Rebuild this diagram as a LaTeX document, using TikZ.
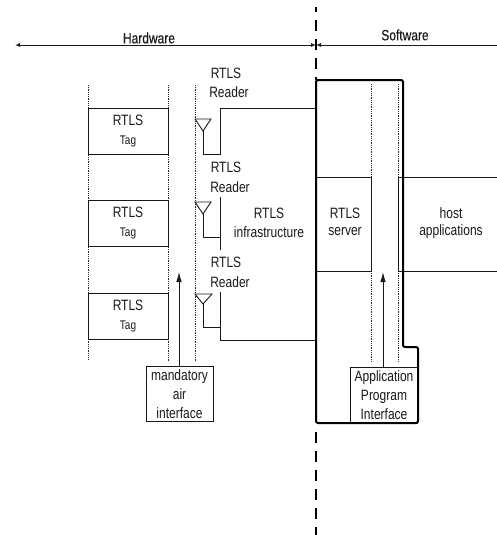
\documentclass[tikz,border=0pt]{standalone}
\usepackage{fontspec}
\setmainfont[FakeStretch=.8]{Liberation Sans}
\usetikzlibrary{arrows.meta}
\newcommand{\bigt}{\fontsize{15}{19}\selectfont}
\newcommand{\smt}{\fontsize{12.5}{19}\selectfont}
\tikzset{
  box/.style={draw=black!90,line width=.9pt,inner sep=0pt,align=center,text=black!90},
  tagbox/.style={box,minimum width=80pt,minimum height=46pt,font=\bigt},
  ifbox/.style={box,fill=white,minimum width=67pt,minimum height=55pt,font=\bigt},
  lbl/.style={inner sep=0pt,align=center,text=black!90,font=\bigt},
  guide/.style={densely dotted,line width=.8pt,black!85},
  wire/.style={line width=.9pt,black!90},
  thick outline/.style={line width=2pt,black,line join=round},
  flow/.style={line width=.9pt,black!90,-{Latex[length=10pt,width=5.5pt]}},
  ant/.style={wire,line join=miter},
  divider/.style={line width=1.5pt,black,dash pattern=on 11pt off 8pt},
}
\begin{document}
\begin{tikzpicture}[x=1pt,y=-1pt]
\useasboundingbox (0,0) rectangle (497,535);
% divider and axis
\coordinate (divT) at (316,20); \coordinate (divB) at (316,535);
\coordinate (divA) at (316,80); \coordinate (divC) at (316,432);
\coordinate (divS) at (316,7); \coordinate (divS2) at (316,12);
\coordinate (axL) at (15,45); \coordinate (axM) at (316,45); \coordinate (axR) at (497,45);
\draw[divider] (divS) -- (divS2);
\draw[divider] (divT) -- (divA);
\draw[divider] (divC) -- (divB);
\draw[wire,{Latex[length=5pt,width=4pt]}-{Latex[length=5pt,width=4pt]}] (axL) -- (axM);
\draw[wire,{Latex[length=5pt,width=4pt]}-] (axM) -- (axR);
\node[lbl] (hw) at (149,38) {\addfontfeature{FakeBold=.4}Hardware};
\node[lbl] (sw) at (405,35) {\addfontfeature{FakeBold=.4}Software};
% tag guides
\coordinate (g1a) at (88,85);  \coordinate (g1b) at (88,360);
\coordinate (g2a) at (168,85); \coordinate (g2b) at (168,362);
\coordinate (g3a) at (195,85); \coordinate (g3b) at (195,362);
\draw[guide] (g1a) -- (g1b); \draw[guide] (g2a) -- (g2b); \draw[guide] (g3a) -- (g3b);
% tags
\node[tagbox] (t1) at (128,131) {RTLS\\{\smt Tag}};
\node[tagbox] (t2) at (128,223.5) {RTLS\\{\smt Tag}};
\node[tagbox] (t3) at (128,316) {RTLS\\{\smt Tag}};
% antennas and reader wiring
\coordinate (a1) at (203,131); \coordinate (a2) at (203,214); \coordinate (a3) at (203,304);
\draw[ant] (195,119) -- (211,119) -- (a1) -- cycle;
\draw[ant] (195,202) -- (211,202) -- (a2) -- cycle;
\draw[ant] (195,294) -- (212,294) -- (a3) -- cycle;
\coordinate (infTop) at (316,108); \coordinate (infBot) at (316,340);
\draw[wire] (a1) -- (203,154) -- (220,154) -- (220,108) -- (infTop);
\draw[wire] (a2) -- (203,237) -- (220,237);
\draw[wire] (220,197) -- (220,250);
\draw[wire] (a3) -- (203,327) -- (220,327);
\draw[wire] (220,292) -- (220,340) -- (infBot);
\node[lbl] (r1) at (226,73) {RTLS}; \node[lbl] (r1b) at (229,92) {Reader};
\node[lbl] (r2) at (226,167) {RTLS}; \node[lbl] (r2b) at (230,187) {Reader};
\node[lbl] (r3) at (226,262) {RTLS}; \node[lbl] (r3b) at (230,282) {Reader};
\node[lbl] (inf) at (269,213) {RTLS};
\node[lbl] (inf2) at (269,232) {infrastructure};
% API guides and server
\coordinate (s1a) at (371,84); \coordinate (s1b) at (371,177); \coordinate (s1c) at (371,271); \coordinate (s1d) at (371,362);
\coordinate (s2a) at (398,84); \coordinate (s2b) at (398,177); \coordinate (s2c) at (398,271); \coordinate (s2d) at (398,362);
\draw[guide] (s1a) -- (s1b); \draw[guide] (s1c) -- (s1d);
\draw[guide] (s2a) -- (s2b); \draw[guide] (s2c) -- (s2d);
\draw[wire] (316,177) -- (s1b) -- (s1c) -- (316,271);
\draw[wire] (403,177) -- (s2b) -- (s2c) -- (403,271);
\draw[wire] (403,177) -- (497,177);
\draw[wire] (403,271) -- (497,271);
\node[lbl] (srv) at (345,213) {RTLS};
\node[lbl] (srv2) at (345,232) {server};
\node[lbl] (host) at (451,213) {host};
\node[lbl] (host2) at (451,232) {applications};
% interface boxes
\node[ifbox] (mai) at (179.5,394) {mandatory\\air\\interface};
\node[ifbox,minimum height=56pt] (api) at (384,395) {Application\\Program\\Interface};
\coordinate (maiT) at (179,272); \coordinate (apiT) at (383,272);
\draw[flow] (mai.north -| maiT) -- (maiT);
\draw[flow] (api.north -| apiT) -- (apiT);
% software outline, on top of the API box
\draw[thick outline,rounded corners=2pt] (316,80) -- (403,80) -- (403,347) -- (418,347) -- (418,423) -- (316,423) -- cycle;
\end{tikzpicture}
\end{document}
